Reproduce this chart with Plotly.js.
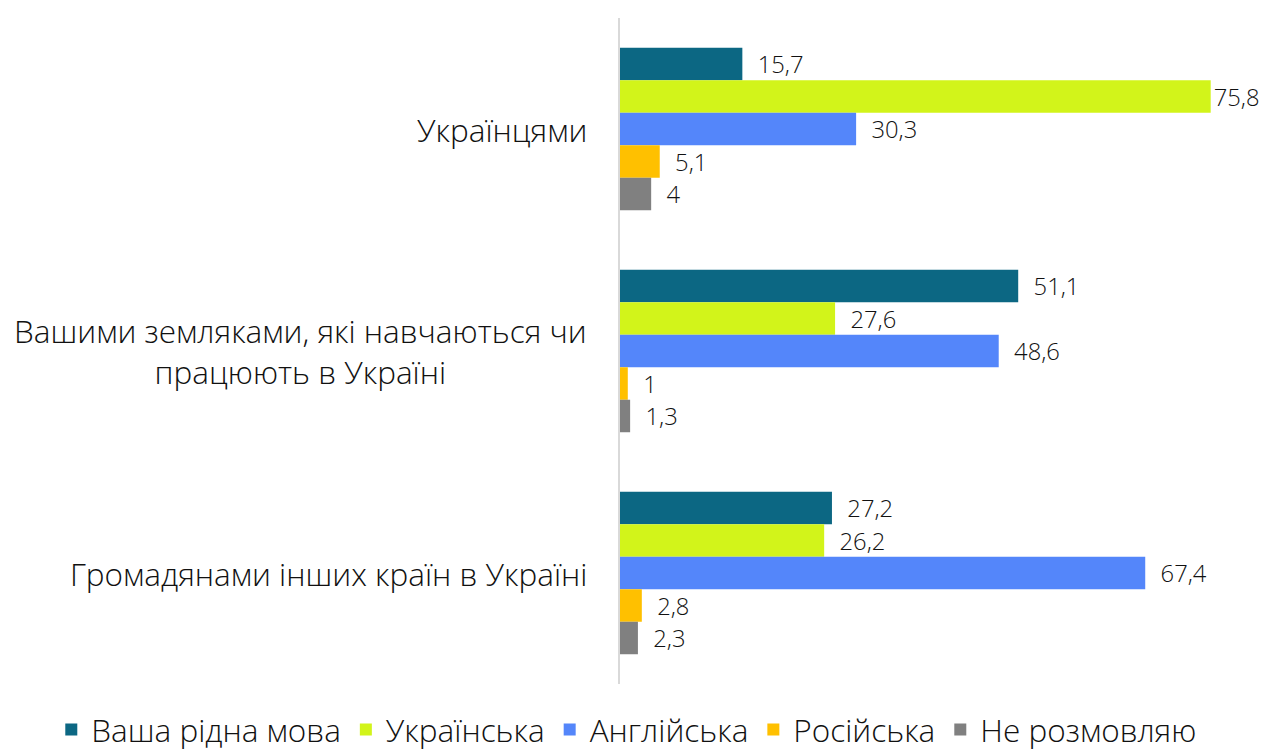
<!DOCTYPE html>
<html>
<head>
<meta charset="utf-8">
<script src="https://cdn.plot.ly/plotly-3.0.1.min.js"></script>
<style>html,body{margin:0;padding:0;background:#fff;}#chart{width:1266px;height:754px;}</style>
</head>
<body>
<div id="chart"></div>
<script>
const categories = [
  "Українцями",
  "Вашими земляками, які навчаються чи<br>працюють в Україні",
  "Громадянами інших країн в Україні"
];
const seriesNames = ["Ваша рідна мова", "Українська", "Англійська", "Російська", "Не розмовляю"];
const nativeLang = [15.7, 51.1, 27.2];
const ukrainian = [75.8, 27.6, 26.2];
const english = [30.3, 48.6, 67.4];
const russian = [5.1, 1.0, 2.8];
const noSpeak = [4.0, 1.3, 2.3];
const seriesValues = [nativeLang, ukrainian, english, russian, noSpeak];
const colors = ["#0C6783", "#D2F41A", "#5486FA", "#FFC000", "#808080"];

const FONT = "'Open Sans', Roboto, sans-serif";
const fmt = v => v.toString().replace('.', ',');

const traces = seriesValues.map((vals, i) => ({
  type: 'bar',
  orientation: 'h',
  name: seriesNames[i],
  y: categories,
  x: vals,
  marker: {color: colors[i]},
  text: vals.map(v => (v > 70 ? '' : '\u00a0\u00a0') + fmt(v)),
  textposition: 'outside',
  textfont: {family: FONT, size: 30, color: '#111', weight: 300},
  cliponaxis: false,
  hoverinfo: 'x+name'
}));

const annotations = categories.map(c => ({
  xref: 'paper', yref: 'y', x: 0, y: c,
  xshift: -31,
  xanchor: 'right', yanchor: 'middle', align: 'center',
  text: c, showarrow: false,
  font: {family: FONT, size: 31.5, color: '#111', weight: 300}
}));

const layout = {
  width: 1266, height: 754,
  margin: {l: 620, r: 7, t: 18, b: 70, autoexpand: false},
  paper_bgcolor: '#fff', plot_bgcolor: '#fff',
  barmode: 'group', bargap: 0.268, bargroupgap: 0,
  showlegend: true,
  legend: {
    orientation: 'h', traceorder: 'normal',
    xref: 'paper', yref: 'paper',
    x: -0.89, xanchor: 'left', y: -0.028, yanchor: 'top',
    font: {family: FONT, size: 31.5, color: '#111', weight: 300},
    itemwidth: 30
  },
  xaxis: {range: [0, 82], showgrid: false, zeroline: false, showticklabels: false, showline: false, fixedrange: true},
  yaxis: {autorange: 'reversed', showticklabels: false, showgrid: false, zeroline: false,
          showline: true, linecolor: '#d9d9d9', linewidth: 2, ticks: ''},
  annotations: annotations
};

Plotly.newPlot('chart', traces, layout, {displayModeBar: false, staticPlot: true});
</script>
</body>
</html>
